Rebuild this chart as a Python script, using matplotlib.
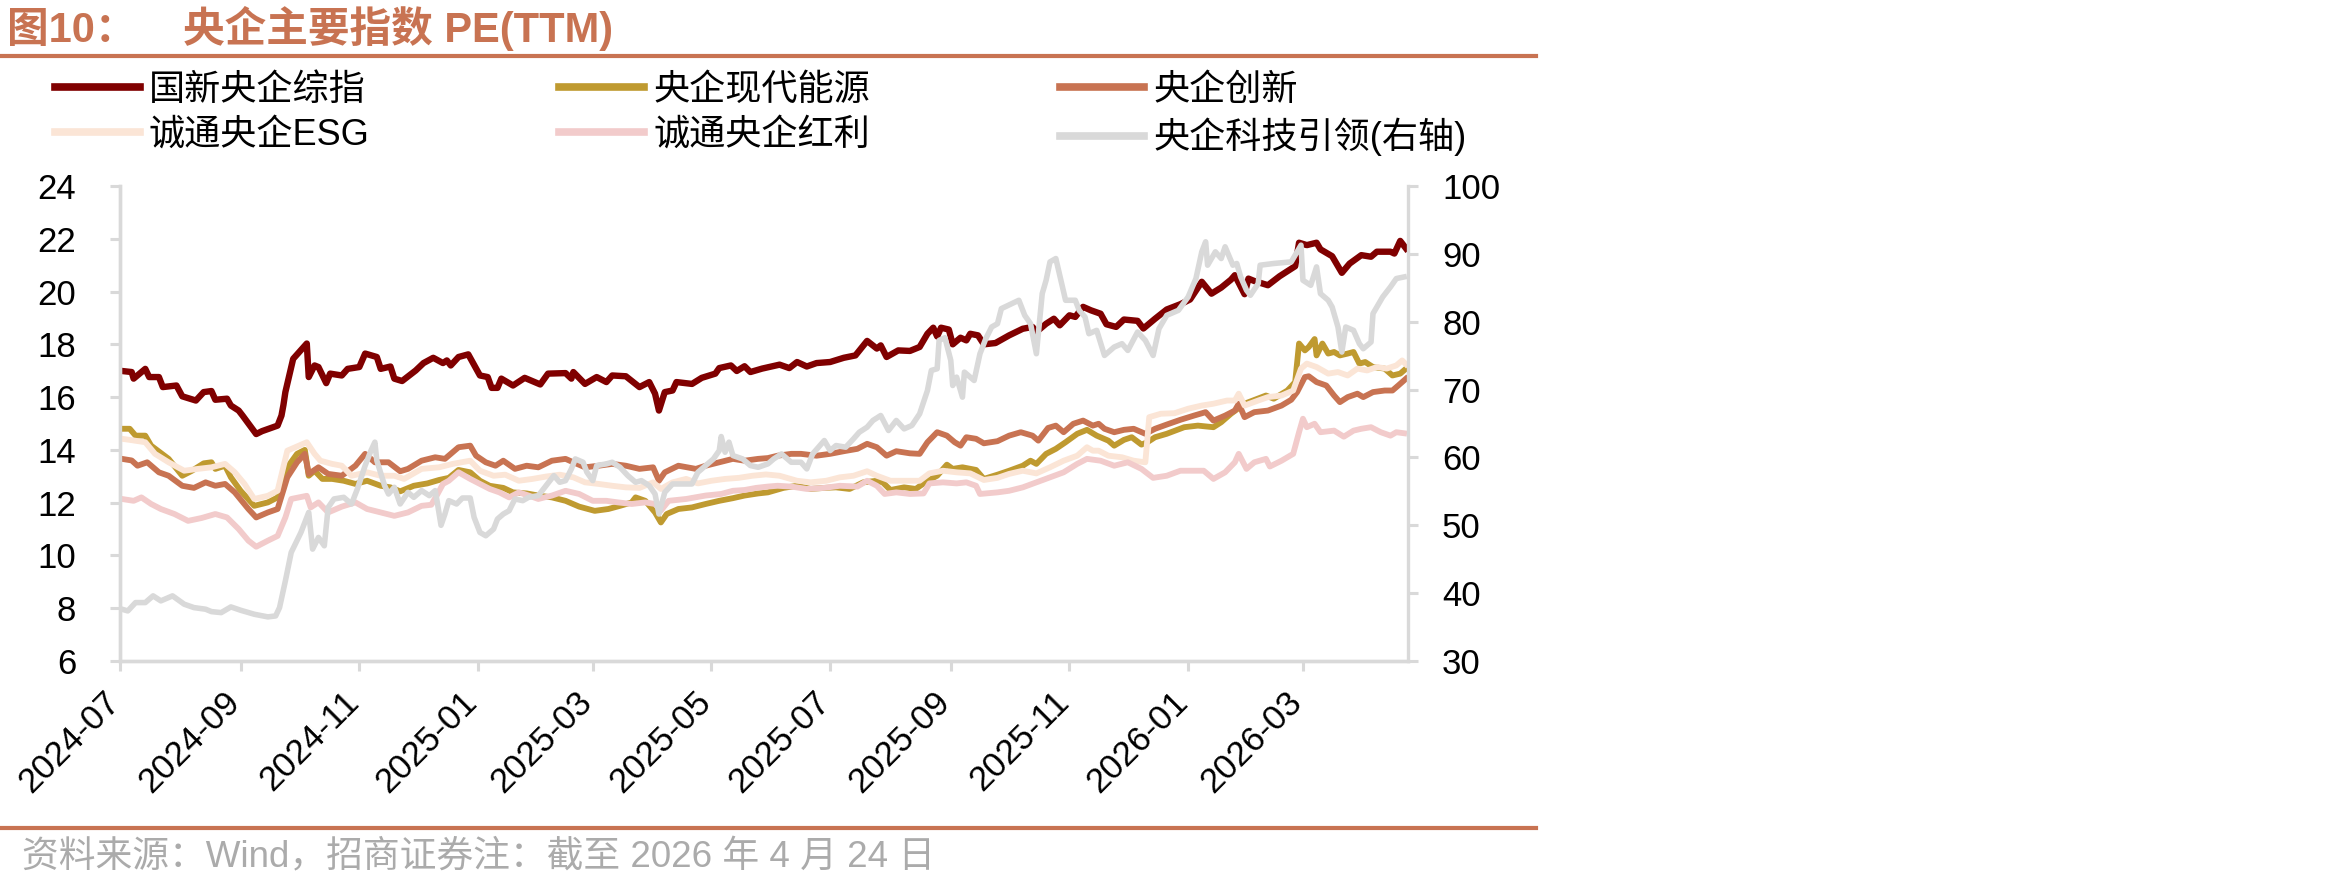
import matplotlib
matplotlib.use('Agg')
import matplotlib.pyplot as plt
import matplotlib.dates as mdates
from matplotlib.lines import Line2D
from matplotlib.transforms import ScaledTranslation
import pandas as pd

plt.rcParams['font.family'] = ['Liberation Sans', 'Noto Sans CJK SC']

# ---------------- data ----------------
START_DATE = '2024-07-01'   # day offsets below are calendar days since this date
END_DATE = '2026-04-24'

series_names = ['国新央企综指', '央企现代能源', '央企创新', '诚通央企ESG', '诚通央企红利', '央企科技引领(右轴)']

red_points = [(1,16.99),(6,16.95),(7,16.70),(13,17.07),(15,16.76),(20,16.76),(22,16.38),(29,16.44),(32,16.03),(39,15.87),
    (43,16.19),(47,16.23),(49,15.90),(55,15.94),(57,15.68),(61,15.49),(63,15.30),(68,14.80),(70,14.60),(73,14.71),
    (81,14.92),(83,15.30),(84,15.70),(85,16.19),(89,17.45),(96,18.03),(97,16.76),(100,17.20),(102,17.14),(106,16.53),
    (108,16.89),(114,16.82),(117,17.07),(123,17.14),(126,17.65),(132,17.52),(134,17.07),(139,17.16),(141,16.70),(145,16.61),
    (152,17.01),(156,17.29),(161,17.49),(166,17.29),(168,17.39),(170,17.20),(174,17.52),(179,17.62),(185,16.82),(189,16.76),
    (191,16.35),(194,16.35),(196,16.70),(202,16.44),(208,16.73),(216,16.48),(220,16.89),(229,16.91),(232,16.70),(233,16.95),
    (239,16.50),(245,16.76),(250,16.57),(253,16.82),(260,16.79),(267,16.38),(272,16.57),(275,16.13),(277,15.49),(280,16.19),
    (284,16.25),(286,16.57),(294,16.50),(299,16.73),(306,16.89),(308,17.10),(314,17.20),(317,16.99),(321,17.17),(324,16.95),
    (330,17.08),(339,17.23),(344,17.10),(348,17.33),(353,17.16),(358,17.29),(365,17.33),(372,17.49),(378,17.58),(384,18.13),
    (389,17.84),(391,17.96),(394,17.52),(400,17.77),(406,17.75),(411,17.90),(415,18.40),(418,18.63),(420,18.30),(422,18.63),
    (426,18.56),(428,18.00),(432,18.25),(435,18.15),(437,18.40),(441,18.34),(444,18.00),(450,18.05),(457,18.34),(464,18.59),
    (469,18.66),(471,18.47),(476,18.78),(480,18.97),(483,18.72),(488,19.10),(491,19.04),(495,19.42),(499,19.29),(504,19.16),
    (507,18.76),(512,18.66),(516,18.94),(523,18.89),(526,18.60),(532,18.97),(538,19.32),(545,19.52),(550,19.70),(556,20.37),
    (561,19.92),(566,20.15),(571,20.45),(573,20.62),(578,19.90),(580,20.49),(583,20.40),(590,20.24),(596,20.58),(604,20.96),
    (606,21.85),(610,21.76),(615,21.85),(617,21.60),(623,21.34),(628,20.71),(632,21.06),(638,21.38),(643,21.32),(646,21.51),
    (653,21.51),(655,21.44),(658,21.92),(661,21.63)]

gold_points = [(1,14.80),(5,14.80),(8,14.54),(13,14.54),(16,14.16),(25,13.66),(32,13.02),(37,13.21),(43,13.49),(47,13.53),
    (49,13.28),(54,13.40),(57,12.96),(62,12.45),(69,11.88),(76,12.01),(81,12.20),(86,13.34),(91,13.85),(95,14.00),
    (97,13.02),(100,13.21),(104,12.90),(109,12.90),(115,12.83),(121,12.71),(127,12.83),(134,12.64),(139,12.58),(144,12.43),
    (151,12.64),(158,12.73),(164,12.86),(169,12.94),(174,13.24),(180,13.15),(185,12.83),(190,12.64),(197,12.56),(202,12.39),
    (209,12.35),(215,12.27),(222,12.20),(229,12.07),(236,11.85),(244,11.69),(251,11.76),(257,11.88),(263,12.01),(265,12.20),
    (270,12.07),(275,11.63),(278,11.25),(281,11.57),(287,11.76),(294,11.82),(301,11.95),(308,12.07),(315,12.17),(321,12.27),
    (328,12.35),(333,12.39),(341,12.56),(348,12.64),(355,12.52),(362,12.56),(368,12.58),(375,12.52),(382,12.77),(389,12.83),
    (392,12.77),(396,12.48),(403,12.58),(409,12.52),(415,12.83),(420,13.02),(425,13.44),(428,13.28),(433,13.34),(440,13.24),
    (444,12.90),(451,13.06),(457,13.21),(464,13.40),(468,13.59),(471,13.47),(476,13.85),(481,14.04),(486,14.29),(492,14.61),
    (497,14.76),(502,14.54),(508,14.35),(511,14.16),(516,14.38),(520,14.48),(525,14.20),(528,14.29),(532,14.48),(538,14.61),
    (547,14.86),(554,14.92),(562,14.86),(566,15.05),(571,15.37),(578,15.75),(589,16.06),(593,15.94),(600,16.25),(604,16.57),
    (606,18.03),(609,17.77),(611,17.90),(614,18.20),(615,17.58),(618,18.03),(621,17.65),(624,17.71),(627,17.58),(631,17.65),
    (634,17.71),(637,17.27),(640,17.33),(644,17.14),(650,17.08),(654,16.82),(658,16.89),(661,17.08)]

copper_points = [(1,13.66),(6,13.60),(9,13.40),(14,13.53),(20,13.15),(25,13.02),(32,12.64),(38,12.56),(44,12.77),(49,12.64),
    (54,12.71),(59,12.39),(66,11.76),(70,11.44),(76,11.63),(81,11.76),(86,12.96),(91,13.53),(95,13.85),(97,13.09),
    (102,13.34),(107,13.09),(114,13.02),(121,13.40),(126,13.85),(131,13.53),(138,13.53),(144,13.19),(148,13.28),(155,13.59),
    (162,13.72),(167,13.66),(174,14.10),(180,14.16),(183,13.78),(188,13.53),(193,13.40),(197,13.59),(203,13.28),(209,13.40),
    (215,13.34),(222,13.59),(229,13.66),(233,13.53),(239,13.34),(246,13.40),(253,13.47),(260,13.40),(267,13.28),(274,13.34),
    (277,12.83),(280,13.15),(287,13.40),(296,13.28),(301,13.40),(308,13.53),(315,13.66),(321,13.59),(328,13.66),(333,13.69),
    (338,13.78),(345,13.85),(350,13.85),(358,13.78),(365,13.85),(372,13.95),(379,14.04),(384,14.23),(389,14.10),(394,13.78),
    (399,13.95),(406,13.87),(411,13.85),(415,14.29),(420,14.67),(425,14.54),(429,14.29),(432,14.16),(435,14.48),(440,14.42),
    (444,14.25),(451,14.33),(457,14.54),(463,14.67),(469,14.54),(472,14.35),(477,14.83),(481,14.92),(485,14.67),(490,14.99),
    (495,15.11),(500,14.92),(503,14.99),(506,14.80),(511,14.67),(516,14.76),(521,14.80),(527,14.61),(532,14.80),(538,14.96),
    (545,15.14),(552,15.30),(558,15.43),(562,15.11),(568,15.30),(573,15.49),(575,15.75),(578,15.24),(583,15.43),(590,15.49),
    (597,15.68),(602,15.90),(605,16.19),(609,16.76),(611,16.79),(615,16.57),(620,16.44),(624,16.06),(627,15.81),(631,16.00),
    (636,16.13),(639,16.00),(644,16.19),(650,16.25),(654,16.25),(657,16.44),(661,16.70)]

esg_points = [(1,14.42),(5,14.38),(13,14.29),(18,13.85),(25,13.53),(33,13.21),(40,13.28),(47,13.34),(54,13.47),(59,13.15),
    (64,12.71),(69,12.14),(76,12.26),(81,12.45),(86,13.97),(96,14.29),(100,13.85),(103,13.59),(109,13.47),(114,13.40),
    (119,13.02),(127,13.15),(134,13.02),(141,13.02),(146,12.90),(155,13.28),(164,13.34),(171,13.47),(180,13.59),(185,13.21),
    (192,13.02),(198,13.06),(205,12.83),(212,12.90),(219,12.99),(226,13.06),(233,12.96),(239,12.77),(246,12.71),(253,12.64),
    (260,12.58),(267,12.56),(274,12.77),(278,12.52),(284,12.77),(291,12.90),(297,12.73),(304,12.83),(311,12.90),(318,12.94),
    (325,13.02),(332,13.07),(339,13.02),(348,12.83),(355,12.77),(363,12.83),(370,12.96),(377,13.02),(384,13.19),(389,13.02),
    (396,12.83),(403,12.83),(411,12.83),(416,13.11),(423,13.21),(430,13.15),(437,13.11),(444,12.86),(451,12.94),(457,13.09),
    (464,13.21),(471,13.11),(478,13.34),(485,13.59),(492,13.78),(497,14.10),(500,13.97),(503,13.97),(508,13.78),(515,13.72),
    (521,13.59),(527,13.53),(529,15.24),(535,15.37),(542,15.39),(549,15.56),(556,15.68),(562,15.75),(569,15.87),(573,15.87),
    (575,16.13),(578,15.68),(585,15.87),(590,16.00),(597,16.06),(603,16.25),(607,17.08),(610,17.27),(615,17.14),(621,16.89),
    (626,16.95),(631,16.82),(636,17.08),(641,17.01),(646,17.14),(651,17.08),(656,17.20),(659,17.39),(661,17.24)]

dividend_points = [(1,12.14),(7,12.07),(11,12.20),(16,11.95),(21,11.76),(28,11.57),(35,11.31),(42,11.42),(49,11.57),(55,11.44),
    (61,11.00),(66,10.56),(70,10.33),(76,10.56),(81,10.74),(85,11.44),(88,12.14),(96,12.26),(98,11.82),(102,12.01),
    (107,11.63),(114,11.85),(121,12.01),(127,11.76),(134,11.63),(141,11.50),(148,11.63),(155,11.88),(160,11.92),(163,12.30),
    (166,12.71),(169,12.83),(174,13.15),(180,12.90),(185,12.71),(190,12.52),(195,12.39),(200,12.20),(205,12.39),(210,12.27),
    (215,12.14),(222,12.27),(229,12.45),(236,12.33),(243,12.07),(250,12.07),(256,12.01),(263,11.95),(270,12.01),(275,11.95),
    (278,11.70),(282,12.07),(291,12.14),(301,12.27),(309,12.33),(315,12.45),(321,12.48),(327,12.56),(333,12.61),(338,12.64),
    (345,12.61),(353,12.52),(362,12.56),(370,12.64),(379,12.61),(384,12.83),(389,12.64),(393,12.33),(399,12.39),(406,12.33),
    (413,12.35),(416,12.73),(423,12.77),(430,12.73),(435,12.77),(440,12.64),(442,12.33),(451,12.39),(457,12.45),(464,12.58),
    (471,12.77),(478,12.96),(485,13.15),(492,13.47),(497,13.66),(504,13.59),(511,13.40),(518,13.53),(525,13.28),(531,12.94),
    (538,13.02),(545,13.21),(552,13.21),(557,13.21),(562,12.90),(568,13.15),(573,13.53),(575,13.85),(579,13.28),(583,13.53),
    (589,13.66),(591,13.37),(597,13.59),(603,13.85),(606,14.67),(608,15.18),(610,14.86),(614,14.99),(617,14.67),(624,14.73),
    (629,14.50),(634,14.73),(638,14.80),(643,14.86),(648,14.67),(653,14.54),(656,14.67),(660,14.63)]

tech_points = [(1,37.63),(4,37.38),(8,38.61),(13,38.61),(17,39.60),(21,38.86),(27,39.60),(33,38.37),(38,37.87),(44,37.63),
    (47,37.28),(52,37.13),(57,37.97),(62,37.48),(69,36.89),(76,36.50),(80,36.64),(82,37.87),(85,41.81),(88,46.00),
    (93,48.95),(97,51.90),(99,46.49),(102,48.21),(105,46.98),(107,52.64),(110,53.88),(115,54.12),(119,53.14),(122,55.35),
    (126,58.80),(129,61.01),(131,62.25),(132,59.54),(136,55.84),(138,54.61),(141,55.60),(144,53.14),(148,54.86),(151,54.12),
    (155,55.11),(159,54.37),(162,55.11),(163,53.50),(165,50.00),(167,51.66),(169,53.63),(173,53.14),(176,54.02),(180,54.02),
    (182,51.17),(185,48.95),(188,48.46),(192,49.44),(194,50.92),(197,51.66),(200,52.15),(203,53.88),(207,53.63),(210,54.12),
    (215,54.37),(219,55.84),(223,57.32),(226,56.34),(229,56.58),(232,58.31),(234,59.78),(238,59.29),(240,57.81),(243,56.58),
    (245,58.80),(250,59.05),(253,59.29),(257,58.55),(261,57.32),(265,56.34),(268,56.58),(272,55.84),(275,54.61),(277,51.66),
    (280,54.86),(284,56.09),(289,56.09),(294,56.09),(297,57.81),(301,58.80),(305,59.78),(308,61.01),(309,63.08),(311,60.77),
    (313,62.25),(315,60.28),(320,59.78),(324,58.80),(328,58.55),(333,59.05),(336,59.78),(340,60.52),(345,59.29),(350,59.29),
    (353,58.31),(356,60.52),(362,62.49),(365,61.01),(368,61.75),(373,61.51),(377,62.74),(380,63.72),(384,64.46),(387,65.45),
    (391,66.18),(395,63.97),(399,65.45),(403,64.21),(407,64.71),(411,66.43),(415,69.86),(417,72.82),(420,73.07),(421,77.25),
    (424,77.64),(427,74.30),(428,70.60),(430,71.83),(433,68.88),(434,72.57),(437,71.83),(439,71.34),(442,75.28),(445,77.50),
    (448,79.22),(451,79.71),(453,81.93),(462,83.16),(465,80.94),(468,79.71),(471,75.28),(474,84.14),(476,86.11),(478,88.82),
    (481,89.31),(483,86.85),(486,83.16),(491,83.16),(493,81.68),(496,80.70),(498,78.23),(502,78.73),(506,75.03),(511,76.27),
    (515,76.76),(518,75.77),(523,78.48),(527,77.25),(531,75.03),(534,78.97),(538,80.94),(544,81.68),(549,83.65),(553,86.36),
    (556,90.30),(558,91.78),(559,88.33),(563,90.30),(566,89.31),(568,91.04),(572,88.33),(574,88.58),(576,86.60),(579,84.64),
    (581,83.90),(585,85.62),(586,88.33),(593,88.58),(602,88.82),(605,90.30),(607,91.28),(608,86.11),(612,85.37),(615,88.08),
    (617,84.14),(621,83.16),(623,82.17),(626,79.22),(628,75.53),(630,79.22),(634,78.73),(637,76.76),(639,76.02),(643,77.00),
    (644,81.19),(649,83.65),(653,85.13),(656,86.36),(660,86.60)]

left_ticks = [6, 8, 10, 12, 14, 16, 18, 20, 22, 24]
right_ticks = [30, 40, 50, 60, 70, 80, 90, 100]

title_text = '图10：    央企主要指数 PE(TTM)'
source_text = '资料来源：Wind，招商证券注：截至 2026 年 4 月 24 日'

# ---------------- style ----------------
colors = ['#800000', '#BF9A30', '#C87352', '#FBE5D6', '#F2CBCB', '#D9D9D9']
accent = '#C87352'
axis_grey = '#D9D9D9'
W, H = 2350, 888


def split(points):
    days = [p[0] for p in points]
    vals = [p[1] for p in points]
    dates = pd.Timestamp(START_DATE) + pd.to_timedelta(days, unit='D')
    return dates, vals


fig = plt.figure(figsize=(W / 100, H / 100), dpi=100)
ax = fig.add_axes([120 / W, 1 - 661 / H, (1408 - 120) / W, (661 - 186) / H])
ax2 = ax.twinx()

left_series = [red_points, gold_points, copper_points, esg_points, dividend_points]
handles = []
for i, pts in enumerate(left_series):
    d, v = split(pts)
    lw = 4.6 if i == 0 else 4.2
    h, = ax.plot(d, v, color=colors[i], lw=lw, solid_joinstyle='round', label=series_names[i], zorder=2 + i)
    handles.append(h)
d, v = split(tech_points)
h, = ax2.plot(d, v, color=colors[5], lw=4.0, solid_joinstyle='round', label=series_names[5])
handles.append(h)

ax.set_xlim(pd.Timestamp(START_DATE), pd.Timestamp(END_DATE))
ax.set_ylim(6, 24)
ax2.set_ylim(30, 100)
ax.set_yticks(left_ticks)
ax2.set_yticks(right_ticks)

ax.xaxis.set_major_locator(mdates.MonthLocator(bymonth=[1, 3, 5, 7, 9, 11]))
ax.xaxis.set_major_formatter(mdates.DateFormatter('%Y-%m'))

for a in (ax, ax2):
    for s in a.spines.values():
        s.set_color(axis_grey)
        s.set_linewidth(2.4)
    a.spines['top'].set_visible(False)
ax.spines['right'].set_visible(False)

ax.tick_params(axis='y', which='major', direction='out', length=7.5, width=2.2, color=axis_grey,
               labelsize=25, pad=24, labelcolor='black')
ax.tick_params(axis='x', which='major', direction='out', length=7.5, width=2.2, color=axis_grey,
               labelsize=25, pad=10, labelcolor='black')
ax2.tick_params(axis='y', which='major', direction='out', length=7.5, width=2.2, color=axis_grey,
                labelsize=25, pad=17, labelcolor='black')

offset = ScaledTranslation(6 / 100, 0, fig.dpi_scale_trans)
for lab in ax.get_xticklabels():
    lab.set_rotation(45)
    lab.set_ha('right')
    lab.set_va('top')
    lab.set_transform(lab.get_transform() + offset)

# legend: row 1 = first three series, row 2 = last three
order = [0, 3, 1, 4, 2, 5]
leg = fig.legend([handles[i] for i in order], [series_names[i] for i in order],
                 loc='upper left', bbox_to_anchor=(55 / W, 1 - 73 / H), ncol=3, frameon=False,
                 prop={'family': ['Liberation Sans', 'Noto Sans CJK SC'], 'size': 26},
                 handlelength=2.35, handletextpad=0.25, columnspacing=5.25,
                 borderaxespad=0, borderpad=0, labelspacing=0.27)
for lh in leg.get_lines():
    lh.set_linewidth(5.5)

# title, rules, source
fig.text(7 / W, 1 - 28 / H, title_text, fontsize=30, fontweight='bold', color=accent,
         ha='left', va='center')
fig.add_artist(Line2D([0, 1536 / W], [1 - 56 / H] * 2, transform=fig.transFigure, color=accent, lw=3))
fig.add_artist(Line2D([0, 1536 / W], [1 - 828 / H] * 2, transform=fig.transFigure, color=accent, lw=3))
fig.text(22 / W, 1 - 858 / H, source_text, fontsize=26.5, color='#ABABAB', ha='left', va='center')

fig.savefig('out.png', dpi=100, facecolor='white')
